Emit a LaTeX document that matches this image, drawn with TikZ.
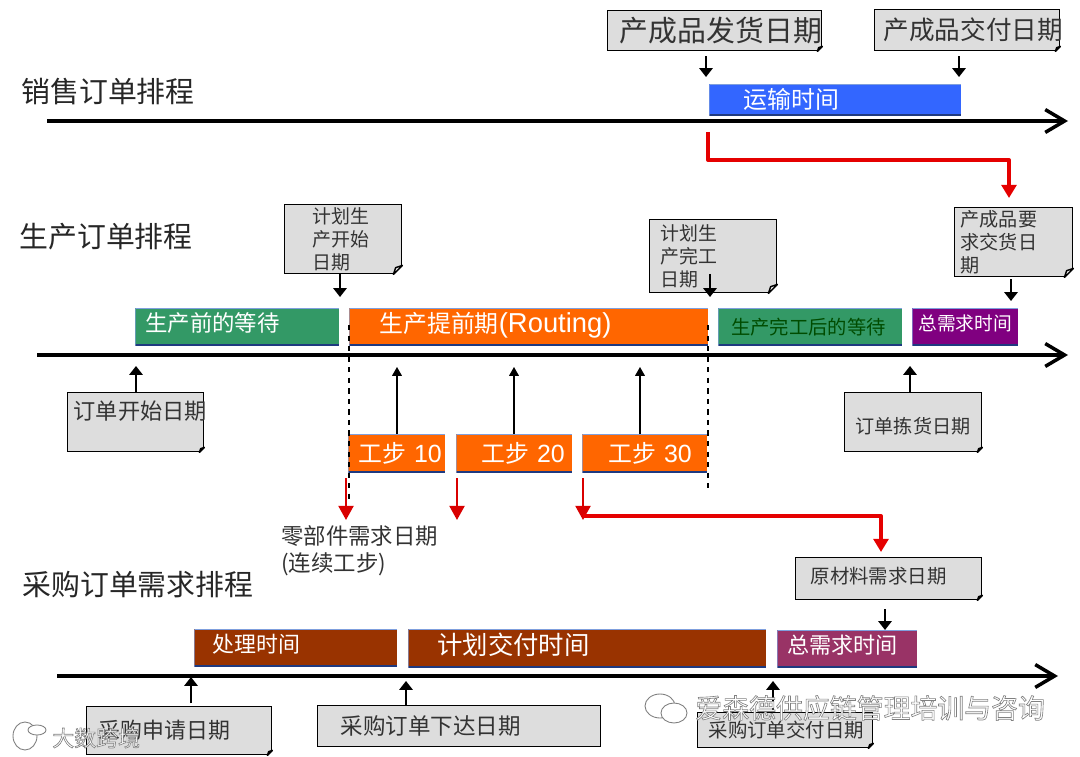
\documentclass[tikz,border=0pt]{standalone}
\usepackage{fontspec}
\usepackage{xcolor}
\usepackage{tikz}
\usetikzlibrary{arrows.meta,calc,positioning}
\setmainfont{Noto Sans CJK SC}
\newfontfamily\arialfont{Liberation Sans}
\def\px{0.02cm}
\newcommand{\pxfont}[1]{\fontsize{\fpeval{#1*0.5669}pt}{\fpeval{#1*0.5669*1.2}pt}\selectfont}
\newcommand{\halo}[1]{\special{pdf:code q 2 Tr 0.35 w 0.5 G 1 g}#1\special{pdf:code Q}}
\definecolor{notegray}{HTML}{DDDDDD}
\definecolor{inkgray}{HTML}{333333}
\definecolor{shipblue}{HTML}{3366FF}
\definecolor{waitgreen}{HTML}{339966}
\definecolor{leadorange}{HTML}{FF6600}
\definecolor{needpurple}{HTML}{800080}
\definecolor{buybrown}{HTML}{993300}
\definecolor{buyplum}{HTML}{993366}
\definecolor{barnavy}{HTML}{1F3A80}
\definecolor{barlight}{HTML}{7F9FDD}
\tikzset{
  notebox/.style n args={3}{draw=black,line width=0.8pt,fill=notegray,text=inkgray,anchor=north west,
    text width=(#1-2*#3)*\px,inner xsep=#3*\px,inner ysep=0pt,minimum height=#2*\px,align=left},
  barbox/.style n args={4}{fill=#1,text=white,anchor=north west,text width=(#2-2*#4)*\px,inner xsep=#4*\px,
    inner ysep=0pt,minimum height=#3*\px,align=left,
    path picture={
      \draw[barnavy,line width=1.6pt] (path picture bounding box.south west)--(path picture bounding box.south east);
      \draw[barlight,line width=1.2pt] (path picture bounding box.south west)--(path picture bounding box.north west)--(path picture bounding box.north east);
    }},
  titletext/.style={anchor=west,inner sep=0pt,text=black!85,font=\pxfont{29}},
  timeaxis/.style={line width=2pt,-{Straight Barb[length=11pt,width=13pt,line width=2pt]}},
  tick/.style={line width=1.1pt,-{Triangle[length=5pt,width=7.5pt]}},
  thintick/.style={line width=0.7pt,-{Triangle[length=5pt,width=5.5pt]}},
  redlink/.style={red!90!black,line width=2.2pt,line join=round,-{Triangle[length=7.5pt,width=8.5pt]}},
  redtick/.style={red!85!black,line width=1.3pt,-{Triangle[length=8pt,width=8.5pt]}},
  limitline/.style={black,line width=0.7pt,dash pattern=on 3pt off 3pt},
}
\begin{document}
\begin{tikzpicture}[x=\px,y=-\px]
  \fill[white] (0,0) rectangle (1080,757);
  \useasboundingbox (0,0) rectangle (1080,757);
  % row titles
  \node[titletext] (titlesale) at (21,92) {销售订单排程};
  \node[titletext] (titlemake) at (19,237) {生产订单排程};
  \node[titletext] (titlebuy) at (22,585) {采购订单需求排程};
  % time axes
  \coordinate (saleA) at (47,121); \coordinate (saleB) at (1068,121);
  \coordinate (makeA) at (37,355); \coordinate (makeB) at (1068,355);
  \coordinate (buyA) at (57,676); \coordinate (buyB) at (1058,676);
  \foreach \k in {sale,make,buy} \draw[timeaxis] (\k A)--(\k B);
  % sales row
  \node[barbox={shipblue}{252}{31}{34},font=\pxfont{24}] (shipbar) at (709,84) {运输时间};
  \node[notebox={214}{40}{12},font=\pxfont{29}] (shipnote) at (607,10) {产成品发货日期};
  \node[notebox={185}{41}{9},font=\pxfont{25.7}] (givenote) at (874,9) {产成品交付日期};
  % production row
  \node[barbox={waitgreen}{204}{37}{10},text depth=10*\px,font=\pxfont{22.5}] (prewait) at (135,308) {生产前的等待};
  \node[barbox={leadorange}{359}{37}{30},text depth=9*\px,font=\pxfont{24}] (leadbar) at (349,308) {生产提前期{\arialfont\pxfont{27.5}(Routing)}};
  \node[barbox={waitgreen}{184}{37}{13},text=green!30!black,font=\pxfont{19.4}] (postwait) at (718,308) {生产完工后的等待};
  \node[barbox={needpurple}{106}{37}{6},text depth=9*\px,font=\pxfont{18.8}] (needbar) at (912,308) {总需求时间};
  \node[notebox={117}{69}{28},font=\pxfont{19}] (startnote) at (284,204) {计划生\\产开始\\日期};
  \node[notebox={127}{73}{11},font=\pxfont{19}] (endnote) at (649,219) {计划生\\产完工\\日期};
  \node[notebox={118}{69}{6},font=\pxfont{19.2}] (neednote) at (954,207) {产成品要\\求交货日\\期};
  \node[notebox={136}{59}{6},text depth=24*\px,font=\pxfont{22.3}] (opennote) at (67,392) {订单开始日期};
  \node[notebox={137}{59}{11},text height=24*\px,font=\pxfont{19.2}] (picknote) at (844,392) {订单拣货日期};
  % steps
  \node[barbox={leadorange}{97}{38}{10},font=\pxfont{24}] (step10) at (348,434) {\mbox{工步{\arialfont\pxfont{25} 10}}};
  \node[barbox={leadorange}{116}{38}{25},font=\pxfont{24}] (step20) at (456,434) {\mbox{工步{\arialfont\pxfont{25} 20}}};
  \node[barbox={leadorange}{125}{38}{26},font=\pxfont{24}] (step30) at (582,434) {\mbox{工步{\arialfont\pxfont{25} 30}}};
  \coordinate (limA) at (349,325); \coordinate (limB) at (349,500);
  \coordinate (limC) at (708,325); \coordinate (limD) at (708,492);
  \draw[limitline] (limA)--(limB);
  \draw[limitline] (limC)--(limD);
  \node[anchor=north west,inner sep=0pt,align=left,text=inkgray,font=\pxfont{22.5}] (partlabel) at (281,525) {零部件需求日期\\(连续工步)};
  % purchase row
  \node[barbox={buybrown}{203}{37}{18},text depth=9*\px,font=\pxfont{22}] (handlebar) at (194,629) {处理时间};
  \node[barbox={buybrown}{358}{38}{29},text depth=9*\px,font=\pxfont{25.5}] (planbar) at (408,629) {计划交付时间};
  \node[barbox={buyplum}{140}{37}{10},text depth=9*\px,font=\pxfont{22.2}] (totalbar) at (777,630) {总需求时间};
  \node[notebox={186}{42}{15},text depth=6*\px,font=\pxfont{19.5}] (rawnote) at (795,557) {原材料需求日期};
  \node[notebox={185}{48}{12},font=\pxfont{22}] (asknote) at (86,706) {采购申请日期};
  \node[notebox={283}{41}{23},font=\pxfont{22.6}] (ordernote) at (317,705) {采购订单下达日期};
  \node[notebox={175}{35}{11},font=\pxfont{19.5}] (paynote) at (697,712) {采购订单交付日期};
  % folded corners
  \foreach \n/\f in {shipnote/5,givenote/5,startnote/9,endnote/9,neednote/9,opennote/5,picknote/5,rawnote/5,asknote/5,ordernote/0,paynote/5} {
    \ifnum\f>0
      \fill[white] (\n.south east)--([xshift=-\f*\px]\n.south east)--([yshift=\f*\px]\n.south east)--cycle;
      \draw[line width=0.8pt,fill=notegray!60!white,line join=round] ([xshift=-\f*\px]\n.south east)--([yshift=\f*\px]\n.south east)--([xshift=-0.75*\f*\px,yshift=0.75*\f*\px]\n.south east)--cycle;
    \fi}
  % small arrows, tips first
  \foreach \nm/\x/\y in {t1/706/77,t2/959/77,t3/340/297,t4/1011/301,t5/885/630}
    \coordinate (\nm) at (\x,\y);
  \coordinate (t6) at (710,297); \coordinate (t6a) at (710,274);
  \draw[tick,shorten <=2.8pt] (shipnote.south -| t1)--(t1);
  \draw[tick,shorten <=2.8pt] (givenote.south -| t2)--(t2);
  \draw[tick] (startnote.south -| t3)--(t3);
  \draw[tick] (t6a)--(t6);
  \draw[tick,shorten <=1pt] (neednote.south -| t4)--(t4);
  \draw[tick,shorten <=5pt] (rawnote.south -| t5)--(t5);
  \foreach \nm/\x/\y in {u1/136/366,u2/910/366,u3/191/677,u4/406/681,u5/773/681}
    \coordinate (\nm) at (\x,\y);
  \draw[tick] (opennote.north -| u1)--(u1);
  \draw[tick] (picknote.north -| u2)--(u2);
  \draw[tick,shorten <=1.5pt] (asknote.north -| u3)--(u3);
  \draw[tick] (ordernote.north -| u4)--(u4);
  \draw[tick] (paynote.north -| u5)--(u5);
  \foreach \nm/\x in {a/397,b/514,c/640} \coordinate (up\nm) at (\x,367);
  \draw[thintick] (step10.north -| upa)--(upa);
  \draw[thintick] (step20.north -| upb)--(upb);
  \draw[thintick] (step30.north -| upc)--(upc);
  % red links
  \coordinate (shipdrop) at (708,132); \coordinate (shiptip) at (1009,198);
  \draw[redlink] (shipdrop)--(708,160)-|(shiptip);
  \foreach \nm/\x in {a/346,b/457,c/583} {
    \coordinate (dropt\nm) at (\x,478); \coordinate (dropb\nm) at (\x,520);
    \draw[redtick] (dropt\nm)--(dropb\nm);}
  \coordinate (rawfrom) at (583,516); \coordinate (rawtip) at (881,552);
  \draw[redlink] (rawfrom)-|(rawtip);
  % watermarks
  \begin{scope}[draw=gray,fill=white,line width=0.5pt]
    \draw[fill=white] (660,706) ellipse (15 and 12);
    \draw[fill=white] (674,713) ellipse (13 and 10);
    \draw[fill=white] (25,736) ellipse (12 and 14);
    \draw[fill=white] (37,730) ellipse (9 and 5);
  \end{scope}
  \node[anchor=west,inner sep=0pt,font=\pxfont{27}] (markright) at (695,708) {\halo{爱森德供应链管理培训与咨询}};
  \node[anchor=west,inner sep=0pt,font=\pxfont{22}] (markleft) at (52,738) {\halo{大数跨境}};
\end{tikzpicture}
\end{document}
